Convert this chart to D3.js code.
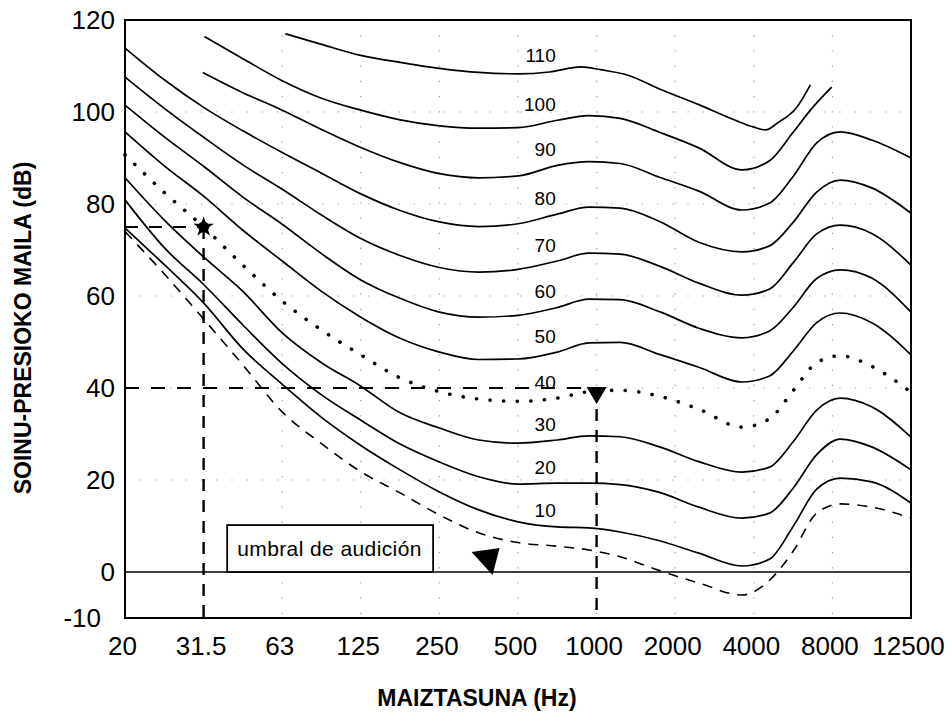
<!DOCTYPE html>
<html><head><meta charset="utf-8">
<script src="https://cdn.jsdelivr.net/npm/d3@7"></script>
<style>
body{margin:0;background:#fff}
svg{display:block}
text{font-family:Arial,"Liberation Sans",Helvetica,sans-serif;fill:#000}
</style>
</head><body>
<svg id="chart" width="952" height="713"></svg>
<script>
// ---- data (frequency position = band index along the axis, level in dB) ----
const xTickLabels = ['20','31.5','63','125','250','500','1000','2000','4000','8000','12500'];
const yTickValues = [-10,0,20,40,60,80,100,120];
const gridYValues = [20,40,60,80,100];

const pos110 = [2.04,2.5,3,3.5,4,4.5,5,5.4,5.8,6.05,6.4,6.8,7.3,7.75,8.0,8.15,8.3,8.55,8.72];
const spl110 = [117,114.7,112.3,110.8,109.5,108.6,108.3,108.7,109.8,109.2,108,105,101.6,98.3,96.7,96.1,97.6,101.1,105.9];

const pos100 = [1.01,1.5,2,2.5,3,3.5,4,4.5,5,5.5,5.9,6.3,6.8,7.3,7.85,8.2,8.5,8.75,8.99];
const spl100 = [116.4,111.6,106.8,103,100.4,98.3,97,96.5,96.6,98.2,99.2,98.6,95.6,92.2,87.4,89.4,95.6,101,105.4];

const pos90 = [0.99,1.5,2,2.5,3,3.5,4,4.5,5,5.5,5.9,6.3,6.8,7.3,7.85,8.2,8.5,8.8,9.1,9.5,10];
const spl90 = [108.6,104.2,100.4,96.2,92.3,89,86.6,85.7,86.1,88.4,89.2,88.8,85.8,82.8,78.7,80.2,86,93.3,95.7,93.9,90];

const gridPos = [0,0.5,1,1.5,2,2.5,3,3.5,4,4.5,5,5.5,5.9,6.3,6.8,7.3,7.85,8.2,8.5,8.8,9.1,9.5,10];
const spl80 = [113.9,107,101,95.9,91.2,86.7,82.2,78.6,76.1,75.1,75.7,77.8,79.3,79.1,76.2,71.7,69.6,70.9,76,82.6,85.2,83.5,78];
const spl70 = [107.6,100.8,94.5,88.5,83.2,77.6,72.5,68.8,66.2,65.2,65.8,67.6,69.3,69.1,66.5,62.8,60.2,61.5,67.2,73.5,75.4,73.6,66.7];
const spl60 = [101.5,94.6,88.2,81.5,75.6,69.2,63.5,59.5,56.5,55.4,55.8,57.5,59.3,59.2,56.6,53,50.9,52.4,57.5,63.8,65.7,63.9,56.5];
const spl50 = [95.7,88.3,81.7,74.3,67.6,61,55.4,50.8,47.8,46.2,46.3,47.8,49.8,49.9,47.3,44.5,41.3,42.6,48,54.2,56.3,54.2,47.2];
const spl40 = [90.7,82.5,75,66.7,58.9,52.6,47.2,42.2,39.2,37.6,37.1,37.8,39.2,39.5,38.2,35.4,31.5,33.3,39.4,45.5,47,44.7,39.1];
const spl30 = [85.7,76.5,68.5,61,52,45.5,40.4,34.6,31.3,28.7,28,28.7,29.6,29.4,27.2,24,21.7,22.8,28.3,35.2,37.8,35.9,29.3];
const spl20 = [80.9,70.5,62.5,53.7,45.3,38.5,33,27.8,23.9,20.7,19.1,19.3,19.3,19,17.3,14.1,11.7,12.8,18.2,25.5,28.9,27.2,22.2];
const spl10 = [74.8,66.8,58.5,48.5,40.8,33.6,27.5,22.2,17.4,13.5,10.9,9.8,9.6,8.7,6.8,4.1,1.3,2.8,9.9,18,20.4,19.6,15];
const splThreshold = [74,64.8,55,45,34.8,27.9,21.8,17.2,12.4,8.5,6.4,5.6,4.8,3.3,0.3,-2.4,-5,-1.8,4.5,12.8,14.8,14.1,11.7];

const contourPhons = ['110','100','90','80','70','60','50','40','30','20','10'];
const examplePoint = [1, 75];      // 31.5 Hz, 75 dB
const examplePoint2 = [6, 40];     // 1000 Hz, 40 dB
const thresholdMarker = [4.6, 0];  // arrow to the threshold curve
const thresholdLabel = 'umbral de audición';

// ---- chart ----
const svg = d3.select('#chart');
const x = d3.scaleLinear().domain([0,10]).range([125,911]);
const y = d3.scaleLinear().domain([-10,120]).range([618,20]);

// sparse dotted grid
const grid = svg.append('g').attr('stroke','#999').attr('stroke-width',1.2)
  .attr('stroke-dasharray','1.2,14').attr('fill','none');
grid.selectAll('line.h').data(gridYValues).join('line')
  .attr('x1',x(0)).attr('x2',x(10)).attr('y1',d=>y(d)).attr('y2',d=>y(d));
grid.selectAll('line.v').data(d3.range(2,10)).join('line')
  .attr('x1',d=>x(d)).attr('x2',d=>x(d)).attr('y1',y(120)).attr('y2',y(-10));

// zero line
svg.append('line').attr('x1',x(0)).attr('x2',x(10)).attr('y1',y(0)).attr('y2',y(0))
  .attr('stroke','#000').attr('stroke-width',1.6);

// reference dashed lines
const dashG = svg.append('g').attr('stroke','#000').attr('fill','none');
dashG.append('line').attr('x1',x(0)).attr('x2',x(examplePoint[0])).attr('y1',y(examplePoint[1])).attr('y2',y(examplePoint[1]))
  .attr('stroke-width',2).attr('stroke-dasharray','13,11');
dashG.append('line').attr('x1',x(examplePoint[0])).attr('x2',x(examplePoint[0])).attr('y1',y(examplePoint[1])).attr('y2',y(-10))
  .attr('stroke-width',2.4).attr('stroke-dasharray','12,9');
dashG.append('line').attr('x1',x(0)).attr('x2',x(examplePoint2[0])).attr('y1',y(examplePoint2[1])).attr('y2',y(examplePoint2[1]))
  .attr('stroke-width',2).attr('stroke-dasharray','14,12');
dashG.append('line').attr('x1',x(examplePoint2[0])).attr('x2',x(examplePoint2[0])).attr('y1',y(examplePoint2[1])).attr('y2',y(-10))
  .attr('stroke-width',2.4).attr('stroke-dasharray','12,9');

// threshold label box
const bx0 = x(1.3), bx1 = x(3.92), by0 = y(10.2), by1 = y(0);
svg.append('rect').attr('x',bx0).attr('y',by0).attr('width',bx1-bx0).attr('height',by1-by0)
  .attr('fill','#fff').attr('stroke','#000').attr('stroke-width',1.8);
svg.append('text').attr('x',bx0+10).attr('y',(by0+by1)/2).attr('dy','0.35em')
  .attr('font-size',21).attr('letter-spacing',0.4).text(thresholdLabel);

// contours
const line = d3.line().x(d=>x(d[0])).y(d=>y(d[1])).curve(d3.curveMonotoneX);
const curves = [
  {phon:'110', pts:d3.zip(pos110,spl110)},
  {phon:'100', pts:d3.zip(pos100,spl100)},
  {phon:'90', pts:d3.zip(pos90,spl90)},
  {phon:'80', pts:d3.zip(gridPos,spl80)},
  {phon:'70', pts:d3.zip(gridPos,spl70)},
  {phon:'60', pts:d3.zip(gridPos,spl60)},
  {phon:'50', pts:d3.zip(gridPos,spl50)},
  {phon:'40', pts:d3.zip(gridPos,spl40), dotted:true},
  {phon:'30', pts:d3.zip(gridPos,spl30)},
  {phon:'20', pts:d3.zip(gridPos,spl20)},
  {phon:'10', pts:d3.zip(gridPos,spl10)}
];
const cg = svg.append('g').attr('fill','none').attr('stroke','#000');
curves.forEach(c=>{
  const p = cg.append('path').attr('d',line(c.pts));
  if(c.dotted){
    p.attr('stroke-width',3.6).attr('stroke-linecap','round').attr('stroke-dasharray','0.1,13.5');
  } else {
    p.attr('stroke-width',1.7);
  }
});
cg.append('path').attr('d',line(d3.zip(gridPos,splThreshold)))
  .attr('stroke-width',1.6).attr('stroke-dasharray','10,8');

// contour labels
const labelPos = 5.48;
function valueAt(pts, p){
  for(let i=1;i<pts.length;i++){
    if(pts[i][0]>=p){
      const a=pts[i-1], b=pts[i], t=(p-a[0])/(b[0]-a[0]);
      return a[1]+t*(b[1]-a[1]);
    }
  }
  return pts[pts.length-1][1];
}
svg.append('g').selectAll('text').data(curves).join('text')
  .attr('x',x(labelPos)).attr('y',d=>y(valueAt(d.pts,labelPos))-16).attr('dy','0.35em')
  .attr('text-anchor','end').attr('font-size',19).text((d,i)=>contourPhons[i]);

// markers
const px = x(examplePoint[0]), py = y(examplePoint[1]);
svg.append('circle').attr('cx',px).attr('cy',py).attr('r',5.5).attr('fill','#000');
svg.append('path').attr('d',d3.symbol(d3.symbolStar).size(130)())
  .attr('transform',`translate(${px},${py})`).attr('fill','#000');
const mx = x(examplePoint2[0]), my = y(examplePoint2[1]);
svg.append('path').attr('d',`M${mx-10},${my-1}L${mx+10},${my-1}L${mx},${my+16}Z`).attr('fill','#000');
const tx = x(thresholdMarker[0]), ty = y(thresholdMarker[1]);
svg.append('path').attr('d',`M${tx-15},${ty-20}L${tx+13},${ty-24}L${tx+6},${ty+3}Z`).attr('fill','#000');

// frame
svg.append('rect').attr('x',x(0)).attr('y',y(120)).attr('width',x(10)-x(0)).attr('height',y(-10)-y(120))
  .attr('fill','none').attr('stroke','#000').attr('stroke-width',2);

// axes
const xAxis = svg.append('g').attr('transform',`translate(0,${y(-10)})`)
  .call(d3.axisBottom(x).tickValues(d3.range(11)).tickFormat(i=>xTickLabels[i]).tickSize(0).tickPadding(19));
xAxis.select('.domain').remove();
xAxis.selectAll('text').attr('font-size',26).attr('dx',-3).style('font-family','Arial,"Liberation Sans",sans-serif');

const yAxis = svg.append('g').attr('transform',`translate(${x(0)},0)`)
  .call(d3.axisLeft(y).tickValues(yTickValues).tickFormat(d=>String(d)).tickSize(0).tickPadding(10));
yAxis.select('.domain').remove();
yAxis.selectAll('text').attr('font-size',26).style('font-family','Arial,"Liberation Sans",sans-serif');
yAxis.selectAll('.tick').filter(d=>d===-10).select('text').attr('x',-24);

// titles
svg.append('text').attr('x',477).attr('y',706).attr('text-anchor','middle')
  .attr('font-size',23).attr('font-weight','bold').text('MAIZTASUNA (Hz)');
svg.append('text').attr('transform','translate(31,328) rotate(-90)').attr('text-anchor','middle')
  .attr('font-size',23).attr('font-weight','bold').text('SOINU-PRESIOKO MAILA (dB)');
</script>
</body></html>
